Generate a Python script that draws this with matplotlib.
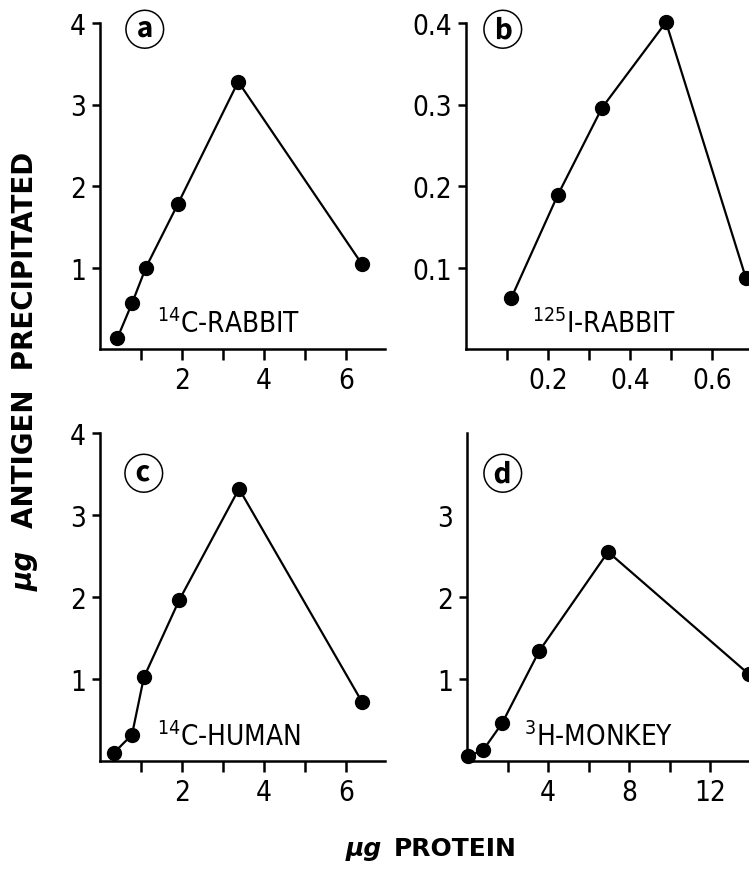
import numpy as np
import matplotlib.pyplot as plt

plt.rcParams['font.family'] = ['DejaVu Sans']
plt.rcParams['font.stretch'] = 'condensed'

# a) 14C-rabbit
xa = [0.42, 0.78, 1.12, 1.9, 3.37, 6.39]
ya = [0.13, 0.56, 1.0, 1.78, 3.28, 1.04]
# b) 125I-rabbit
xb = [0.11, 0.224, 0.332, 0.488, 0.683]
yb = [0.062, 0.189, 0.296, 0.401, 0.087]
# c) 14C-human
xc = [0.34, 0.78, 1.07, 1.93, 3.39, 6.39]
yc = [0.1, 0.32, 1.02, 1.96, 3.32, 0.72]
# d) 3H-monkey
xd = [0.05, 0.79, 1.73, 3.56, 6.96, 13.9]
yd = [0.06, 0.13, 0.46, 1.34, 2.55, 1.06]

W, H = 749, 870
fig = plt.figure(figsize=(W / 100, H / 100), dpi=100)
circ = ['Noto Sans CJK JP', 'DejaVu Sans']

def make_ax(left, top, right, bottom):
    return fig.add_axes([left / W, 1 - bottom / H, (right - left) / W, (bottom - top) / H])

def style(ax):
    for s in ['top', 'right']:
        ax.spines[s].set_visible(False)
    for s in ['left', 'bottom']:
        ax.spines[s].set_linewidth(1.8)
    ax.tick_params(axis='x', direction='out', length=8, width=1.8, pad=4, labelsize=20)
    ax.tick_params(axis='y', direction='out', length=6, width=1.8, pad=4, labelsize=20)

def draw(ax, x, y):
    ax.plot(x, y, color='black', lw=1.6, marker='o', ms=10, clip_on=False)

def tag(ax, x, y, s):
    ax.text(x, y, s, transform=ax.transAxes, fontsize=30, fontweight='bold',
            family=circ, va='center', ha='center')

# a
ax = make_ax(100, 24, 385, 350)
style(ax)
draw(ax, xa, ya)
ax.set_xlim(0, 6.95)
ax.set_ylim(0, 4)
ax.set_xticks([1, 2, 3, 4, 5, 6], ['', '2', '', '4', '', '6'])
ax.set_yticks([1, 2, 3, 4], ['1', '2', '3', '4'])
tag(ax, 0.158, 0.972, 'ⓐ')
ax.text(1.39, 0.32, r'$^{14}$C-RABBIT', fontsize=20, va='center')

# b
ax = make_ax(466, 24, 766, 350)
style(ax)
draw(ax, xb, yb)
ax.set_xlim(0, 0.732)
ax.set_ylim(0, 0.4)
ax.set_xticks([0.1, 0.2, 0.3, 0.4, 0.5, 0.6, 0.7], ['', '0.2', '', '0.4', '', '0.6', ''])
ax.set_yticks([0.1, 0.2, 0.3, 0.4], ['0.1', '0.2', '0.3', '0.4'])
tag(ax, 0.123, 0.972, 'ⓑ')
ax.text(0.161, 0.032, r'$^{125}$I-RABBIT', fontsize=20, va='center')

# c
ax = make_ax(100, 434, 385, 762)
style(ax)
draw(ax, xc, yc)
ax.set_xlim(0, 6.95)
ax.set_ylim(0, 4)
ax.set_xticks([1, 2, 3, 4, 5, 6], ['', '2', '', '4', '', '6'])
ax.set_yticks([1, 2, 3, 4], ['1', '2', '3', '4'])
tag(ax, 0.155, 0.87, 'ⓒ')
ax.text(1.39, 0.30, r'$^{14}$C-HUMAN', fontsize=20, va='center')

# d
ax = make_ax(467, 434, 770, 762)
style(ax)
draw(ax, xd, yd)
ax.set_xlim(0, 14.95)
ax.set_ylim(0, 4)
ax.set_xticks([2, 4, 6, 8, 10, 12, 14], ['', '4', '', '8', '', '12', ''])
ax.set_yticks([1, 2, 3], ['1', '2', '3'])
ax.yaxis.get_major_ticks()[2].tick1line.set_visible(False)
tag(ax, 0.118, 0.87, 'ⓓ')
ax.text(2.8, 0.30, r'$^{3}$H-MONKEY', fontsize=20, va='center')

# shared axis labels
fig.text(25 / W, 1 - 340 / H, 'ANTIGEN  PRECIPITATED', rotation=90, fontsize=20,
         fontweight='bold', fontstretch='normal', va='center', ha='center')
fig.text(25 / W, 1 - 571 / H, 'μg', rotation=90, fontsize=20, fontstyle='italic',
         fontweight='bold', fontstretch='normal', va='center', ha='center')
fig.text(455 / W, 1 - 849 / H, 'PROTEIN', fontsize=18, fontweight='bold',
         fontstretch='normal', va='center', ha='center')
fig.text(364 / W, 1 - 849 / H, 'μg', fontsize=18, fontweight='bold', fontstyle='italic',
         fontstretch='normal', va='center', ha='center')

fig.savefig('out.png', dpi=100)
